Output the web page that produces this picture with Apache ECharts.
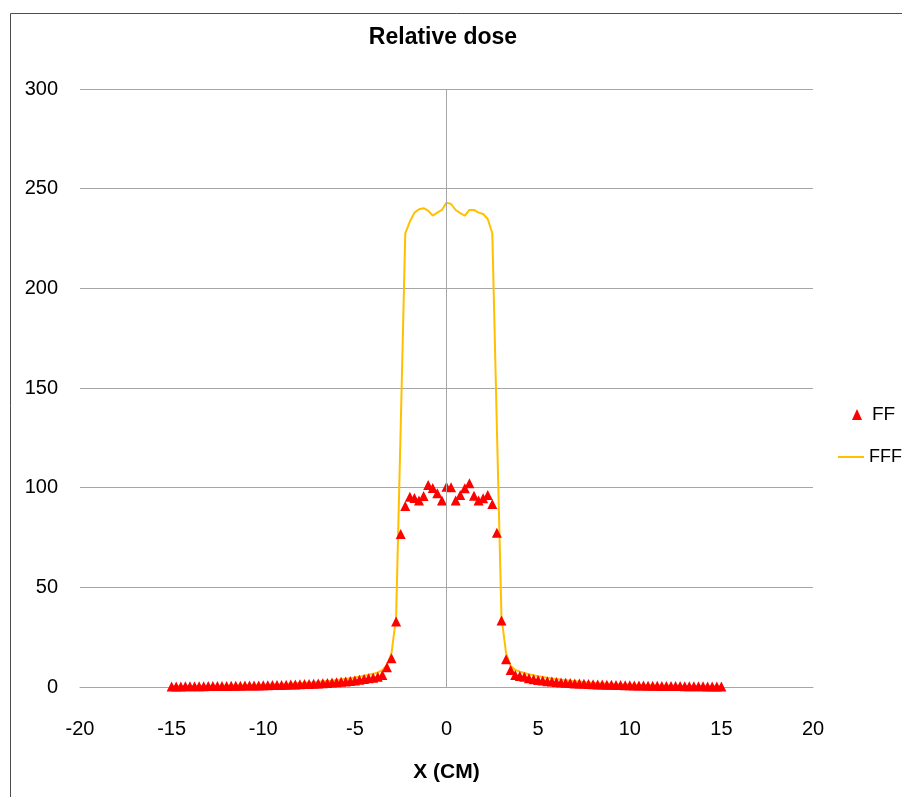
<!DOCTYPE html>
<html>
<head>
<meta charset="utf-8">
<script src="https://cdn.jsdelivr.net/npm/echarts@6/dist/echarts.min.js"></script>
<style>
html,body{margin:0;padding:0;background:#fff;}
#chart{width:902px;height:797px;}
</style>
</head>
<body>
<div id="chart"></div>
<script>
// X positions (cm) of the measurement points
var xPositions = [
  -15,
  -14.75, -14.5, -14.25, -14,
  -13.75, -13.5, -13.25, -13,
  -12.75, -12.5, -12.25, -12,
  -11.75, -11.5, -11.25, -11,
  -10.75, -10.5, -10.25, -10,
  -9.75, -9.5, -9.25, -9,
  -8.75, -8.5, -8.25, -8,
  -7.75, -7.5, -7.25, -7,
  -6.75, -6.5, -6.25, -6,
  -5.75, -5.5, -5.25, -5,
  -4.75, -4.5, -4.25, -4,
  -3.75, -3.5, -3.25, -3,
  -2.75, -2.5, -2.25, -2,
  -1.75, -1.5, -1.25, -1,
  -0.75, -0.5, -0.25, 0,
  0.25, 0.5, 0.75, 1,
  1.25, 1.5, 1.75, 2,
  2.25, 2.5, 2.75, 3,
  3.25, 3.5, 3.75, 4,
  4.25, 4.5, 4.75, 5,
  5.25, 5.5, 5.75, 6,
  6.25, 6.5, 6.75, 7,
  7.25, 7.5, 7.75, 8,
  8.25, 8.5, 8.75, 9,
  9.25, 9.5, 9.75, 10,
  10.25, 10.5, 10.75, 11,
  11.25, 11.5, 11.75, 12,
  12.25, 12.5, 12.75, 13,
  13.25, 13.5, 13.75, 14,
  14.25, 14.5, 14.75, 15
];

// FF relative dose values
var ffValues = [
  0.3,
  0.3, 0.3, 0.35, 0.35,
  0.4, 0.4, 0.4, 0.45,
  0.45, 0.5, 0.5, 0.55,
  0.6, 0.6, 0.65, 0.7,
  0.7, 0.75, 0.8, 0.85,
  0.9, 0.95, 1.0, 1.05,
  1.1, 1.2, 1.3, 1.35,
  1.45, 1.55, 1.65, 1.8,
  1.9, 2.05, 2.2, 2.4,
  2.6, 2.8, 3.0, 3.3,
  3.6, 4.0, 4.4, 4.7,
  5.2, 6.0, 9.9, 14.4,
  32.8, 76.8, 90.8, 95.5,
  94.8, 93.5, 95.8, 101.4,
  99.8, 97.2, 93.5, 100.5,
  100.2, 93.5, 96.3, 99.7,
  102.2, 96.0, 93.5, 94.7,
  96.3, 91.8, 77.4, 33.3,
  13.9, 8.5, 6.0, 5.5,
  5.2, 4.4, 3.9, 3.5,
  3.2, 2.9, 2.7, 2.5,
  2.3, 2.1, 1.95, 1.8,
  1.7, 1.6, 1.5, 1.4,
  1.3, 1.2, 1.15, 1.1,
  1.0, 0.95, 0.9, 0.85,
  0.8, 0.75, 0.7, 0.65,
  0.6, 0.6, 0.55, 0.5,
  0.5, 0.45, 0.45, 0.4,
  0.4, 0.4, 0.35, 0.35,
  0.3, 0.3, 0.3, 0.3
];

// FFF relative dose values
var fffValues = [
  0.4,
  0.4, 0.4, 0.45, 0.45,
  0.5, 0.5, 0.55, 0.55,
  0.6, 0.65, 0.65, 0.7,
  0.75, 0.8, 0.85, 0.9,
  0.95, 1.0, 1.1, 1.15,
  1.2, 1.3, 1.4, 1.5,
  1.6, 1.7, 1.85, 2.0,
  2.1, 2.25, 2.4, 2.6,
  2.8, 3.0, 3.2, 3.5,
  3.8, 4.1, 4.4, 4.8,
  5.2, 5.6, 6.1, 6.6,
  7.3, 8.4, 11.0, 17.0,
  35.0, 130.0, 227.6, 233.5,
  238.0, 239.7, 240.2, 239.0,
  236.5, 238.0, 239.3, 243.0,
  242.3, 239.3, 237.7, 236.5,
  239.3, 239.3, 238.0, 237.3,
  234.8, 227.6, 130.0, 35.0,
  17.0, 10.5, 8.6, 7.7,
  7.0, 6.4, 5.9, 5.4,
  5.0, 4.6, 4.3, 4.0,
  3.7, 3.4, 3.1, 2.9,
  2.7, 2.5, 2.3, 2.1,
  1.95, 1.8, 1.7, 1.6,
  1.5, 1.4, 1.3, 1.2,
  1.1, 1.05, 1.0, 0.9,
  0.85, 0.8, 0.75, 0.7,
  0.65, 0.6, 0.6, 0.55,
  0.5, 0.5, 0.45, 0.45,
  0.4, 0.4, 0.4, 0.4
];

var seriesNames = ['FF', 'FFF'];
var chartTitle = 'Relative dose';
var xAxisTitle = 'X (CM)';

var ffData = xPositions.map(function (x, i) { return [x, ffValues[i]]; });
var fffData = xPositions.map(function (x, i) { return [x, fffValues[i]]; });

var font = '"Liberation Sans", Arial, sans-serif';

var chart = echarts.init(document.getElementById('chart'), null, {renderer: 'canvas'});
chart.setOption({
  animation: false,
  backgroundColor: '#ffffff',
  graphic: [{
    type: 'rect',
    shape: {x: 10.5, y: 13.5, width: 1000, height: 1000},
    style: {fill: 'none', stroke: '#4d4d4d', lineWidth: 1},
    silent: true
  }],
  title: {
    text: chartTitle,
    left: 443,
    top: 26,
    padding: 0,
    textAlign: 'center',
    textStyle: {fontFamily: font, fontWeight: 'bold', fontSize: 23, color: '#000'}
  },
  legend: [{
    data: [{name: seriesNames[0], icon: 'triangle'}],
    left: 852,
    top: 405,
    itemWidth: 10,
    itemHeight: 11,
    padding: 0,
    textStyle: {fontFamily: font, fontSize: 19, color: '#000', padding: [0, 0, 0, 5]}
  }, {
    data: [{name: seriesNames[1], icon: 'rect'}],
    left: 838,
    top: 448,
    itemWidth: 26,
    itemHeight: 2,
    padding: 0,
    textStyle: {fontFamily: font, fontSize: 18, color: '#000'}
  }],
  grid: {left: 80, right: 89, top: 89, bottom: 110, containLabel: false},
  xAxis: {
    type: 'value',
    min: -20,
    max: 20,
    interval: 5,
    name: xAxisTitle,
    nameLocation: 'middle',
    nameGap: 75,
    nameTextStyle: {fontFamily: font, fontWeight: 'bold', fontSize: 21, color: '#000'},
    axisLine: {show: true, onZero: true, lineStyle: {color: '#a6a6a6', width: 1}},
    axisTick: {show: false},
    splitLine: {show: false},
    axisLabel: {fontFamily: font, fontSize: 20, color: '#000', margin: 32}
  },
  yAxis: {
    type: 'value',
    min: 0,
    max: 300,
    interval: 50,
    axisLine: {show: false},
    axisTick: {show: false},
    splitLine: {show: true, lineStyle: {color: '#a6a6a6', width: 1}},
    axisLabel: {fontFamily: font, fontSize: 20, color: '#000', margin: 22}
  },
  series: [{
    name: seriesNames[0],
    type: 'scatter',
    data: ffData,
    symbol: 'triangle',
    symbolSize: [10, 10],
    itemStyle: {color: '#ff0000', opacity: 1},
    z: 4,
    markLine: {
      silent: true,
      symbol: 'none',
      label: {show: false},
      lineStyle: {color: '#a6a6a6', width: 1, type: 'solid'},
      data: [{xAxis: 0}]
    }
  }, {
    name: seriesNames[1],
    type: 'line',
    data: fffData,
    showSymbol: false,
    symbol: 'none',
    lineStyle: {color: '#ffc000', width: 2},
    itemStyle: {color: '#ffc000'},
    z: 3
  }]
});
</script>
</body>
</html>
